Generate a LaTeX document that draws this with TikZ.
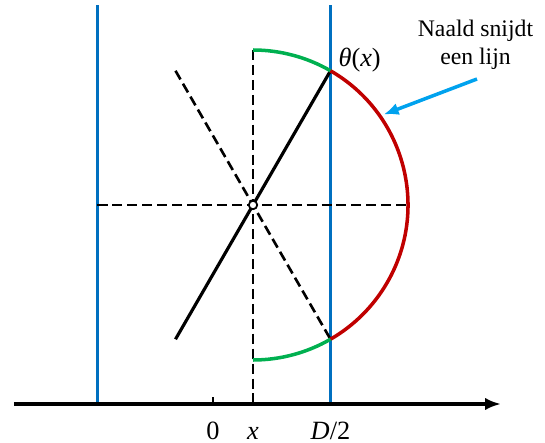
\documentclass[tikz,border=0pt]{standalone}
\usepackage{fontspec}
\setmainfont{Liberation Serif}
\usepackage{tikz}
\usetikzlibrary{arrows.meta, positioning, calc}
\definecolor{cwall}{HTML}{0070C0}
\definecolor{cnote}{HTML}{00A2EE}
\definecolor{chit}{HTML}{C00000}
\definecolor{cmiss}{HTML}{00B050}

\begin{document}
\begin{tikzpicture}[
  x=0.02cm, y=0.02cm,
  wall/.style={draw=cwall, line width=1.7pt},
  guide/.style={draw, line width=1.5pt, dash pattern=on 5.7pt off 2.8pt},
  needle/.style={draw, line width=1.8pt},
  miss/.style={draw=cmiss, line width=2pt},
  hit/.style={draw=chit, line width=2pt},
  axis/.style={-{Latex[length=9pt, width=7pt]}, line width=1.8pt},
  arr/.style={-{Latex[length=8.5pt, width=7pt]}, line width=2pt, draw=cnote},
  lab/.style={anchor=base, inner sep=0pt, font=\fontsize{15}{18}\selectfont},
  note/.style={align=center, font=\fontsize{13.5}{15.9}\selectfont}
]
\useasboundingbox (-253,205) rectangle (292,-238);

% axis and the two lines of the floor
\coordinate (xl) at (-239,-199);
\coordinate (xr) at (248,-199);
\coordinate (wl top) at (-155.5,199.5);
\coordinate (wl bot) at (-155.5,-199);
\coordinate (wr top) at (77.5,199.5);
\coordinate (wr bot) at (77.5,-199);
\draw[wall] (wl top) -- (wl bot);
\draw[wall] (wr top) -- (wr bot);
\draw[axis] (xl) -- (xr);
\coordinate (t0 top) at (-40,-192);
\coordinate (t0) at (-40,-199);
\draw[line width=1.4pt] (t0) -- (t0 top);

% needle and helper lines
\coordinate (c)  at (0,0);
\coordinate (n1) at (60:155);
\coordinate (n2) at (240:155);
\coordinate (m1) at (120:155);
\coordinate (m2) at (300:155);
\coordinate (top) at (90:155);
\coordinate (bot) at (270:155);
\coordinate (right) at (0:155);
\coordinate (foot) at (0,-199);
\coordinate (wl mid) at (-155.5,0);
\draw[guide] (top) -- (foot);
\draw[guide] (wl mid) -- (right);
\draw[guide] (m1) -- (m2);
\draw[needle] (n2) -- (n1);

% arcs
\draw[miss] (top) arc[start angle=90, end angle=60, radius=155];
\draw[hit]  (n1) arc[start angle=60, end angle=-60, radius=155];
\draw[miss] (m2) arc[start angle=-60, end angle=-90, radius=155];

\node[draw, circle, fill=white, line width=1pt, inner sep=0pt,
      minimum size=4.8pt] (mid) at (c) {};

% labels
\node[lab, anchor=base west, xshift=4.4pt, yshift=2.3pt] (theta) at (n1)
    {\textit{θ}(\textit{x})};
\node[lab] (l0) at (-40,-234.5) {0};
\node[lab] (lx) at (0,-234.5) {\textit{x}};
\node[lab] (lD) at (77.5,-234.5) {\textit{D}/2};

% note with arrow
\node[note] (nt) at (222.5,160.5) {Naald snijdt\\een lijn};
\coordinate (nt from) at (224,126);
\coordinate (nt to) at (34.7:159);
\draw[arr] (nt from) -- (nt to);
\end{tikzpicture}
\end{document}
